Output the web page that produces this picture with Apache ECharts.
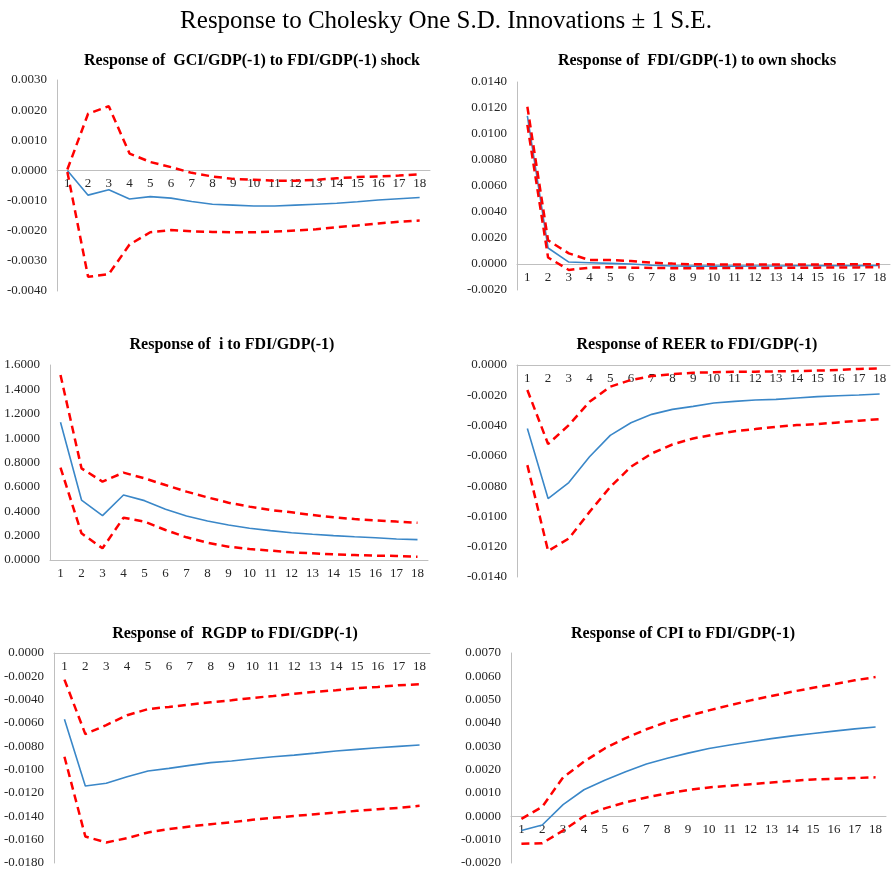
<!DOCTYPE html>
<html>
<head>
<meta charset="utf-8">
<script src="https://cdn.jsdelivr.net/npm/echarts@6/dist/echarts.min.js"></script>
<style>
  html, body { margin: 0; padding: 0; background: #fff; }
  #chart { width: 891px; height: 871px; }
</style>
</head>
<body>
<div id="chart"></div>
<script>
// Horizon (periods)
const periods = ['1','2','3','4','5','6','7','8','9','10','11','12','13','14','15','16','17','18'];

// Response of GCI/GDP(-1) to FDI/GDP(-1) shock
const gciResp  = [0.0000,-0.00082,-0.00064,-0.00095,-0.00087,-0.00092,-0.00103,-0.00112,-0.00115,-0.00118,-0.00118,-0.00115,-0.00112,-0.00109,-0.00104,-0.00098,-0.00094,-0.00090];
const gciUpper = [0.00003,0.00188,0.00213,0.00056,0.00028,0.00011,-0.00008,-0.00020,-0.00028,-0.00031,-0.00034,-0.00034,-0.00031,-0.00026,-0.00022,-0.00020,-0.00017,-0.00013];
const gciLower = [-0.00005,-0.00353,-0.00344,-0.00246,-0.00205,-0.00198,-0.00202,-0.00204,-0.00205,-0.00205,-0.00203,-0.00199,-0.00195,-0.00188,-0.00183,-0.00176,-0.00170,-0.00166];

// Response of FDI/GDP(-1) to own shocks
const fdiResp  = [0.0114,0.00123,0.00015,0.00010,0.00005,0.0000,-0.00010,-0.00015,-0.00016,-0.00016,-0.00016,-0.00015,-0.00015,-0.00014,-0.00014,-0.00013,-0.00013,-0.00012];
const fdiUpper = [0.0121,0.00182,0.00082,0.00030,0.00030,0.00023,0.00010,0.00003,-0.00002,-0.00003,-0.00003,-0.00003,-0.00003,-0.00003,-0.00003,-0.00002,-0.00002,-0.00002];
const fdiLower = [0.0107,0.00050,-0.00046,-0.00028,-0.00025,-0.00028,-0.00030,-0.00032,-0.00032,-0.00032,-0.00031,-0.00030,-0.00030,-0.00029,-0.00028,-0.00027,-0.00026,-0.00025];

// Response of i to FDI/GDP(-1)
const iResp  = [1.130,0.492,0.364,0.533,0.487,0.416,0.361,0.320,0.287,0.260,0.241,0.224,0.211,0.200,0.191,0.183,0.172,0.167];
const iUpper = [1.518,0.752,0.643,0.717,0.670,0.615,0.561,0.514,0.470,0.438,0.410,0.391,0.369,0.350,0.336,0.325,0.315,0.306];
const iLower = [0.758,0.219,0.096,0.347,0.315,0.246,0.186,0.142,0.109,0.090,0.077,0.063,0.055,0.046,0.041,0.036,0.033,0.027];

// Response of REER to FDI/GDP(-1)
const reerResp  = [-0.00419,-0.00882,-0.00776,-0.00606,-0.00465,-0.00381,-0.00326,-0.00293,-0.00273,-0.00251,-0.00240,-0.00231,-0.00227,-0.00218,-0.00209,-0.00203,-0.00198,-0.00192];
const reerUpper = [-0.00165,-0.00522,-0.00397,-0.00243,-0.00143,-0.00099,-0.00073,-0.00060,-0.00051,-0.00048,-0.00044,-0.00044,-0.00042,-0.00040,-0.00037,-0.00033,-0.00026,-0.00022];
const reerLower = [-0.00661,-0.01228,-0.01146,-0.00970,-0.00805,-0.00672,-0.00584,-0.00525,-0.00485,-0.00459,-0.00437,-0.00423,-0.00408,-0.00397,-0.00390,-0.00379,-0.00368,-0.00357];

// Response of RGDP to FDI/GDP(-1)
const rgdpResp  = [-0.00567,-0.01140,-0.01117,-0.01060,-0.01011,-0.00989,-0.00963,-0.00940,-0.00926,-0.00906,-0.00889,-0.00875,-0.00858,-0.00840,-0.00826,-0.00812,-0.00800,-0.00789];
const rgdpUpper = [-0.00228,-0.00695,-0.00618,-0.00533,-0.00481,-0.00462,-0.00442,-0.00422,-0.00405,-0.00385,-0.00368,-0.00350,-0.00333,-0.00319,-0.00302,-0.00291,-0.00276,-0.00268];
const rgdpLower = [-0.00889,-0.01573,-0.01624,-0.01587,-0.01538,-0.01510,-0.01487,-0.01467,-0.01450,-0.01430,-0.01413,-0.01396,-0.01382,-0.01368,-0.01353,-0.01339,-0.01328,-0.01310];

// Response of CPI to FDI/GDP(-1)
const cpiResp  = [-0.00061,-0.00037,0.00050,0.00114,0.00155,0.00191,0.00224,0.00249,0.00271,0.00291,0.00306,0.00320,0.00333,0.00345,0.00355,0.00365,0.00375,0.00383];
const cpiUpper = [-0.00011,0.00041,0.00167,0.00234,0.00291,0.00335,0.00373,0.00405,0.00430,0.00454,0.00476,0.00497,0.00516,0.00534,0.00551,0.00566,0.00583,0.00597];
const cpiLower = [-0.00118,-0.00115,-0.00061,0.00000,0.00034,0.00060,0.00081,0.00098,0.00113,0.00124,0.00131,0.00138,0.00145,0.00152,0.00158,0.00161,0.00164,0.00167];

// Panel headings and y-axis ranges
const panelTitles = [
  'Response of  GCI/GDP(-1) to FDI/GDP(-1) shock',
  'Response of  FDI/GDP(-1) to own shocks',
  'Response of  i to FDI/GDP(-1)',
  'Response of REER to FDI/GDP(-1)',
  'Response of  RGDP to FDI/GDP(-1)',
  'Response of CPI to FDI/GDP(-1)'
];
const yMin = [-0.004, -0.002, 0, -0.014, -0.018, -0.002];
const yMax = [0.003, 0.014, 1.6, 0, 0, 0.007];
const yStep = [0.001, 0.002, 0.2, 0.002, 0.002, 0.001];

const panels = [
  [gciResp, gciUpper, gciLower],
  [fdiResp, fdiUpper, fdiLower],
  [iResp, iUpper, iLower],
  [reerResp, reerUpper, reerLower],
  [rgdpResp, rgdpUpper, rgdpLower],
  [cpiResp, cpiUpper, cpiLower]
];

// Layout of the six plot areas
const grids = [
  { left: 57,  top: 80,  width: 373, height: 211 },
  { left: 517, top: 82,  width: 373, height: 208 },
  { left: 50,  top: 365, width: 378, height: 195 },
  { left: 517, top: 365, width: 373, height: 212 },
  { left: 54,  top: 653, width: 376, height: 210 },
  { left: 511, top: 653, width: 375, height: 210 }
];
const titlePos = [
  { x: 247, y: 48 }, { x: 692, y: 48 },
  { x: 227, y: 332 }, { x: 692, y: 332 },
  { x: 230, y: 621 }, { x: 678, y: 621 }
];

const FONT = '"Liberation Serif", "Times New Roman", serif';
const AXIS_GRAY = '#bfbfbf';
const BLUE = '#3a87c8';
const RED = '#ff0000';

const title = [{
  text: 'Response to Cholesky One S.D. Innovations \u00b1 1 S.E.',
  left: 441, top: 4, textAlign: 'center',
  textStyle: { fontFamily: FONT, fontSize: 25, fontWeight: 'normal', color: '#000' }
}];
panelTitles.forEach((t, k) => {
  title.push({
    text: t, left: titlePos[k].x, top: titlePos[k].y, textAlign: 'center',
    textStyle: { fontFamily: FONT, fontSize: 16, fontWeight: 'bold', color: '#000' }
  });
});

const xAxis = [], yAxis = [], series = [];
panels.forEach((p, k) => {
  // the category axis crosses the value axis at zero; shift it up from the grid bottom
  const zeroShift = grids[k].height * (0 - yMin[k]) / (yMax[k] - yMin[k]);
  xAxis.push({
    type: 'category', gridIndex: k, data: periods, boundaryGap: true,
    position: 'bottom', offset: -zeroShift,
    axisLine: { show: true, onZero: false, lineStyle: { color: AXIS_GRAY, width: 1 } },
    axisTick: { show: false },
    axisLabel: { fontFamily: FONT, fontSize: 13, color: '#262626', margin: 7, interval: 0 },
    splitLine: { show: false }
  });
  yAxis.push({
    type: 'value', gridIndex: k, min: yMin[k], max: yMax[k], interval: yStep[k],
    axisLine: { show: true, lineStyle: { color: AXIS_GRAY, width: 1 } },
    axisTick: { show: false },
    splitLine: { show: false },
    axisLabel: {
      fontFamily: FONT, fontSize: 13, color: '#262626', margin: 10,
      formatter: v => v.toFixed(4)
    }
  });
  series.push({
    type: 'line', xAxisIndex: k, yAxisIndex: k, data: p[0],
    symbol: 'none', lineStyle: { color: BLUE, width: 1.6 }, z: 3
  });
  [p[1], p[2]].forEach(band => {
    series.push({
      type: 'line', xAxisIndex: k, yAxisIndex: k, data: band,
      symbol: 'none', lineStyle: { color: RED, width: 2.5, type: [8, 5] }, z: 4
    });
  });
});

const chart = echarts.init(document.getElementById('chart'), null, { renderer: 'canvas' });
chart.setOption({
  animation: false,
  backgroundColor: '#ffffff',
  title, grid: grids, xAxis, yAxis, series
});
</script>
</body>
</html>
